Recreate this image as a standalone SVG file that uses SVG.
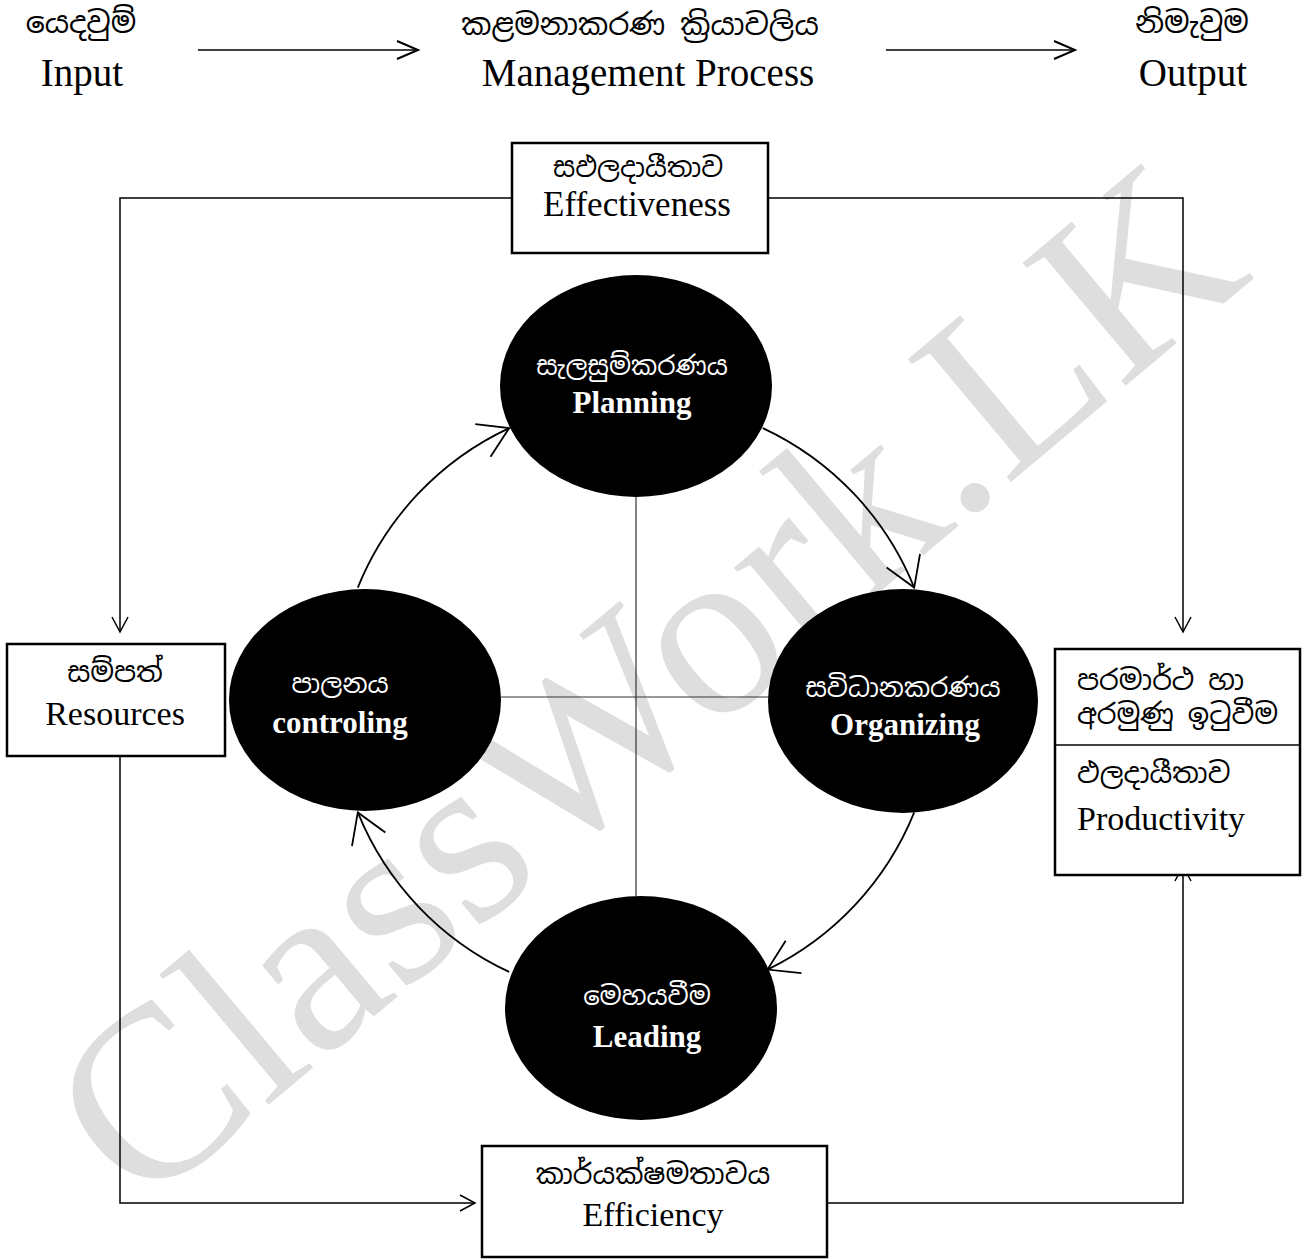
<svg xmlns="http://www.w3.org/2000/svg" width="1306" height="1259" viewBox="0 0 1306 1259">
<style>
.en{font-family:"Liberation Serif","Times New Roman",serif;fill:#000}
.si{font-family:"Noto Sans Sinhala","Iskoola Pota","Noto Serif Sinhala","Liberation Serif",serif;fill:#000}
.wt{fill:#fff}
.b{font-weight:bold}
.mid{text-anchor:middle}
.box{fill:#fff;stroke:#000;stroke-width:2.5}
.ell{fill:#000}
.conn{fill:none;stroke:#000;stroke-width:1.5}
.arc{fill:none;stroke:#000;stroke-width:1.8}
.cross{fill:none;stroke:#333;stroke-width:1.2}
.wm{font-family:"Liberation Serif","Times New Roman",serif;fill:#dedede}
</style>
<defs>
<marker id="ahS" markerUnits="userSpaceOnUse" orient="auto" refX="0" refY="0" markerWidth="40" markerHeight="40" overflow="visible"><path d="M-15,-8 L0,0 L-15,8" fill="none" stroke="#000" stroke-width="1.5"/></marker>
<marker id="ahT" markerUnits="userSpaceOnUse" orient="auto" refX="0" refY="0" markerWidth="40" markerHeight="40" overflow="visible"><path d="M-21,-9 L0,0 L-21,9" fill="none" stroke="#000" stroke-width="2"/></marker>
<marker id="ahA" markerUnits="userSpaceOnUse" orient="auto" refX="0" refY="0" markerWidth="60" markerHeight="60" overflow="visible"><path d="M-29,-18 L0,0 L-29,18" fill="none" stroke="#000" stroke-width="1.8"/></marker>
</defs>
<rect width="1306" height="1259" fill="#fff"/>
<text class="wm mid" font-size="245" transform="translate(645,682) rotate(-40)" y="82">ClassWork.LK</text>

<g id="connectors">
<path class="conn" d="M198,50 H418" stroke-width="2" marker-end="url(#ahT)"/>
<path class="conn" d="M886,50 H1075" stroke-width="2" marker-end="url(#ahT)"/>
<path class="conn" d="M512,198 H120 V632" marker-end="url(#ahS)"/>
<path class="conn" d="M768,198 H1183 V632" marker-end="url(#ahS)"/>
<path class="conn" d="M120,756 V1203 H475" marker-end="url(#ahS)"/>
<path class="conn" d="M827,1203 H1183 V866" marker-end="url(#ahS)"/>
<path class="cross" d="M636,497 V896"/>
<path class="cross" d="M501,697 H769"/>
<path class="arc" d="M357.8,587.6 A300,300 0 0 1 509.2,428.1" marker-end="url(#ahA)"/>
<path class="arc" d="M762.8,428.1 A300,300 0 0 1 914.2,587.6" marker-end="url(#ahA)"/>
<path class="arc" d="M914.2,812.4 A300,300 0 0 1 767.5,969.6" marker-end="url(#ahA)"/>
<path class="arc" d="M509.2,971.9 A300,300 0 0 1 357.8,812.4" marker-end="url(#ahA)"/>
</g>

<g id="input">
<text class="si mid" x="81" y="33" font-size="30">යෙදවුම්</text>
<text class="en mid" x="82" y="86" font-size="39">Input</text>
</g>
<g id="process">
<text class="si mid" x="640" y="35" font-size="30">කළමනාකරණ ක්‍රියාවලිය</text>
<text class="en mid" x="648" y="86" font-size="39">Management Process</text>
</g>
<g id="output">
<text class="si mid" x="1192" y="33" font-size="30">නිමැවුම</text>
<text class="en mid" x="1193" y="86" font-size="39">Output</text>
</g>

<g id="effectiveness">
<rect class="box" x="512" y="143" width="256" height="110"/>
<text class="si mid" x="638" y="177" font-size="27">සඵලදායීතාව</text>
<text class="en mid" x="637" y="216" font-size="35">Effectiveness</text>
</g>
<g id="resources">
<rect class="box" x="7" y="644" width="218" height="112"/>
<text class="si mid" x="115" y="682" font-size="28">සම්පත්</text>
<text class="en mid" x="115" y="725" font-size="34">Resources</text>
</g>
<g id="efficiency">
<rect class="box" x="482" y="1146" width="345" height="111"/>
<text class="si mid" x="653" y="1184" font-size="28">කාර්යක්ෂමතාවය</text>
<text class="en mid" x="653" y="1226" font-size="34">Efficiency</text>
</g>
<g id="productivity">
<rect class="box" x="1055" y="649" width="245" height="226"/>
<line x1="1055" y1="745" x2="1300" y2="745" stroke="#000" stroke-width="1.5"/>
<text class="si" x="1077" y="690" font-size="28">පරමාර්ථ හා</text>
<text class="si" x="1077" y="724" font-size="28">අරමුණු ඉටුවීම</text>
<text class="si" x="1077" y="783" font-size="28">ඵලදායීතාව</text>
<text class="en" x="1077" y="830" font-size="34">Productivity</text>
</g>

<g id="planning">
<ellipse class="ell" cx="636" cy="386" rx="136" ry="111"/>
<text class="si wt mid" x="632" y="375" font-size="26">සැලසුම්කරණය</text>
<text class="en wt b mid" x="632" y="413" font-size="31">Planning</text>
</g>
<g id="organizing">
<ellipse class="ell" cx="903" cy="701" rx="135" ry="112"/>
<text class="si wt mid" x="903" y="697" font-size="26">සවිධානකරණය</text>
<text class="en wt b mid" x="905" y="735" font-size="31">Organizing</text>
</g>
<g id="controling">
<ellipse class="ell" cx="365" cy="700" rx="136" ry="111"/>
<text class="si wt mid" x="340" y="693" font-size="26">පාලනය</text>
<text class="en wt b mid" x="340" y="733" font-size="31">controling</text>
</g>
<g id="leading">
<ellipse class="ell" cx="641" cy="1008" rx="136" ry="112"/>
<text class="si wt mid" x="647" y="1005" font-size="26">මෙහයවීම</text>
<text class="en wt b mid" x="647" y="1047" font-size="31">Leading</text>
</g>
</svg>
